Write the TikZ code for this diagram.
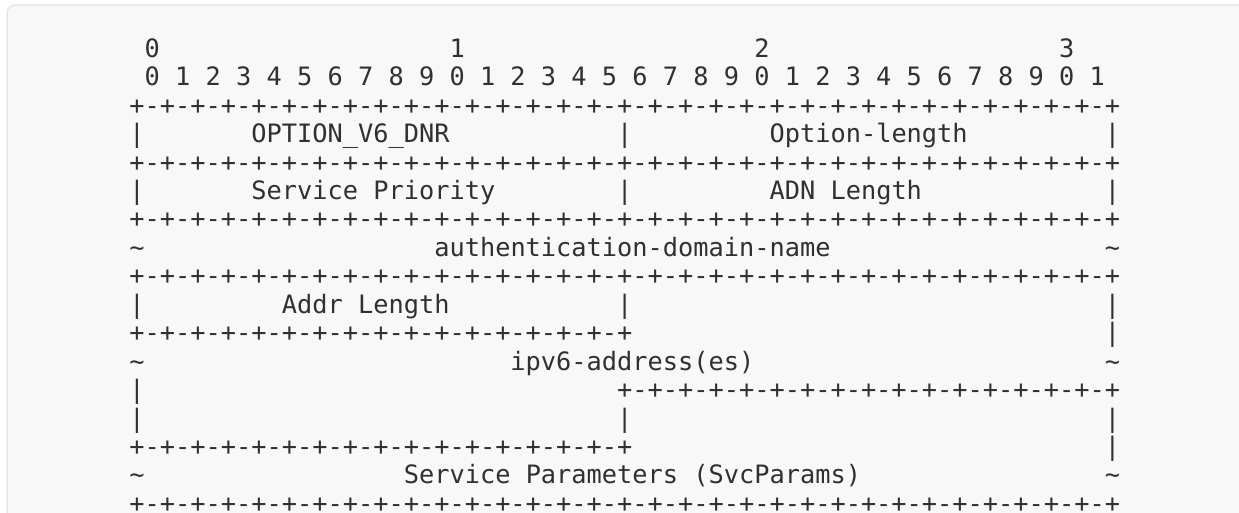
\documentclass[tikz,border=0pt]{standalone}
\usepackage{fontspec}
\setmonofont{DejaVu Sans Mono}
\usepackage{tikz}
\definecolor{pagebg}{HTML}{F8F8F8}
\definecolor{pageedge}{HTML}{E6E6E6}
\definecolor{ink}{HTML}{303030}
\tikzset{ch/.style={inner sep=0pt, anchor=base west, text=ink,
    font=\ttfamily\fontsize{12.66pt}{14pt}\selectfont}}
\newcommand{\glyph}[4]{\node[ch] (#1) at (#2,#3) {#4};}
\newcommand{\vbar}[2]{\node[ch] (bar#1-#2) at (#2,#1) {|};}
\newcommand{\wave}[2]{\node[ch] (wave#1-#2) at (#2,#1) {\textasciitilde};}
\newcommand{\ruler}[3]{\foreach \c in {#2,...,#3}{%
    \pgfmathtruncatemacro{\cpar}{mod(\c,2)}%
    \ifnum\cpar=0 \node[ch] (rule#1-\c) at (\c,#1) {+};\else \node[ch] (rule#1-\c) at (\c,#1) {-};\fi}}

\begin{document}
\begin{tikzpicture}[x=7.62pt, y=-14.22pt]

        \useasboundingbox (-8.471,-2.015) rectangle (72.83,16.023);
        \draw[pageedge, fill=pagebg, line width=0.75pt, rounded corners=4pt] (-8,-1.84) rectangle (76,18);

        % bit numbers
        \foreach \i in {0,...,3} {
            \pgfmathtruncatemacro{\cc}{20*\i+1}
            \glyph{tens\i}{\cc}{0}{\i}
        }
        \foreach \i in {0,...,31} {
            \pgfmathtruncatemacro{\dg}{mod(\i,10)}
            \pgfmathtruncatemacro{\cc}{2*\i+1}
            \glyph{bit\i}{\cc}{1}{\dg}
        }

        % row1
        \ruler{2}{0}{64}
        \vbar{3}{0} \vbar{3}{32} \vbar{3}{64}
        \glyph{code}{8}{3}{OPTION\_V6\_DNR}
        \glyph{optlen}{42}{3}{Option-length}

        % row2
        \ruler{4}{0}{64}
        \vbar{5}{0} \vbar{5}{32} \vbar{5}{64}
        \glyph{prio}{8}{5}{Service Priority}
        \glyph{adnlen}{42}{5}{ADN Length}

        % row3
        \ruler{6}{0}{64}
        \wave{7}{0} \wave{7}{64}
        \glyph{adn}{20}{7}{authentication-domain-name}

        % row4
        \ruler{8}{0}{64}
        \vbar{9}{0} \vbar{9}{32} \vbar{9}{64}
        \glyph{addrlen}{10}{9}{Addr Length}
        \ruler{10}{0}{32}
        \vbar{10}{64}
        \wave{11}{0} \wave{11}{64}
        \glyph{addrs}{25}{11}{ipv6-address(es)}
        \vbar{12}{0}
        \ruler{12}{32}{64}
        \vbar{13}{0} \vbar{13}{32} \vbar{13}{64}
        \ruler{14}{0}{32}
        \vbar{14}{64}

        % row5
        \wave{15}{0} \wave{15}{64}
        \glyph{svcparams}{18}{15}{Service Parameters (SvcParams)}
        \ruler{16}{0}{64}

\end{tikzpicture}
\end{document}
